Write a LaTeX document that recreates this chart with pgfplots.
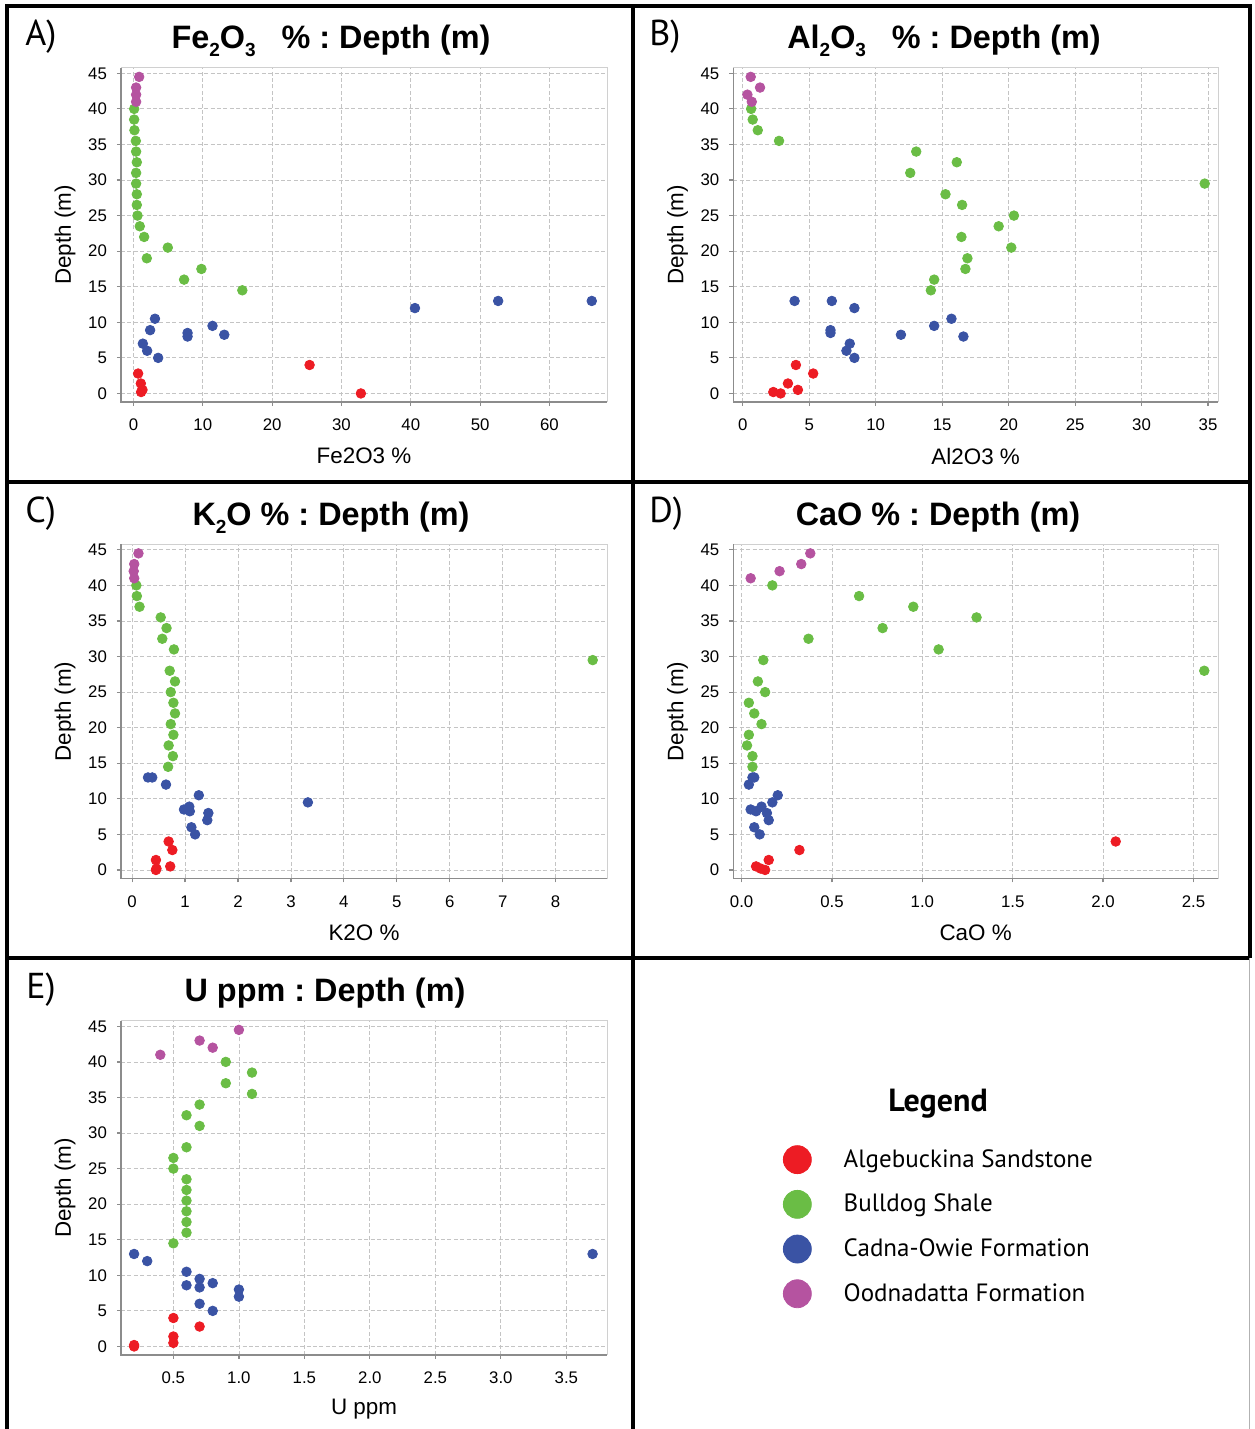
\documentclass[border=0pt]{standalone}
\usepackage{fontspec}
\setmainfont{Liberation Sans}
\newfontfamily\legfont{PT Sans}
\usepackage{pgfplots}
\pgfplotsset{compat=1.18}
\frenchspacing

\definecolor{cred}{HTML}{ED1C24}
\definecolor{cgreen}{HTML}{6ABD45}
\definecolor{cblue}{HTML}{3A53A4}
\definecolor{cpurple}{HTML}{B553A0}
\definecolor{gridc}{HTML}{C4C4C4}
\definecolor{axdark}{HTML}{8C8C8C}
\definecolor{axlight}{HTML}{D0D0D0}

\pgfplotsset{
  panel/.style={
    scale only axis, anchor=south west,
    width=243pt, height=167pt,
    ymin=-1.2, ymax=45.75, ytick={0,5,...,45},
    grid=major,
    major grid style={draw=gridc, line width=0.4pt, dash pattern=on 2pt off 1.2pt},
    axis line style={draw=axlight, line width=0.5pt},
    tick pos=left, tick align=outside, major tick length=2pt,
    tick style={draw=axdark, line width=0.6pt},
    ticklabel style={font=\fontsize{8.4}{10}\selectfont},
    /pgf/number format/assume math mode=true,
    xticklabel style={yshift=-3pt}, yticklabel style={xshift=-1.5pt},
    label style={font=\fontsize{11.2}{13}\selectfont},
    xlabel style={at={(axis description cs:0.5,-0.162)}, anchor=center},
    ylabel style={at={(axis description cs:-0.115,0.5)}, anchor=center},
    ylabel={Depth (m)},
    clip=false,
    every axis plot/.append style={only marks, mark=*, mark size=2.4pt},
  },
  onedec/.style={xticklabel style={/pgf/number format/.cd, fixed, fixed zerofill, precision=1}},
}
\newcommand{\axfix}{\draw[axdark, line width=0.75pt] (rel axis cs:0,1) -- (rel axis cs:0,0) -- (rel axis cs:1,0);}
\newcommand{\sub}[1]{\raisebox{-0.45ex}{\fontsize{9.5}{10}\selectfont #1}}

\begin{document}
\begin{tikzpicture}
\useasboundingbox (0,0) rectangle (627pt,714.5pt);

% A) Fe2O3
\begin{axis}[panel, at={(60.5pt,513.5pt)},
  xmin=-1.8, xmax=68.3, xtick={0,10,...,60}, xlabel={Fe2O3 \%}]
\axfix
\addplot[cred] coordinates {(25.4,4.0) (0.67,2.8) (1.06,1.4) (1.3,0.5) (1.1,0.2) (32.8,0.0)};
\addplot[cgreen] coordinates {(0.1,40) (0.1,38.5) (0.14,37) (0.34,35.5) (0.38,34) (0.48,32.5) (0.38,31) (0.38,29.5) (0.48,28) (0.48,26.5) (0.58,25) (0.91,23.5) (1.54,22) (4.95,20.5) (1.92,19) (9.8,17.5) (7.3,16) (15.7,14.5)};
\addplot[cblue] coordinates {(52.6,13) (66.1,13) (40.6,12) (3.1,10.5) (11.4,9.5) (2.4,8.9) (7.8,8.5) (13.1,8.25) (7.8,8.0) (1.35,7) (1.97,6) (3.56,5)};
\addplot[cpurple] coordinates {(0.82,44.5) (0.38,43) (0.38,42) (0.38,41)};
\end{axis}

% B) Al2O3
\begin{axis}[panel, at={(366.65pt,513.5pt)}, width=242.35pt,
  xmin=-0.71, xmax=35.75, xtick={0,5,...,35}, xlabel={Al2O3 \%}]
\axfix
\addplot[cred] coordinates {(4.0,4.0) (5.3,2.8) (3.4,1.4) (4.15,0.5) (2.3,0.2) (2.85,0.0)};
\addplot[cgreen] coordinates {(0.63,40) (0.75,38.5) (1.13,37) (2.73,35.5) (13.05,34) (16.1,32.5) (12.6,31) (34.75,29.5) (15.25,28) (16.5,26.5) (20.4,25) (19.25,23.5) (16.45,22) (20.2,20.5) (16.9,19) (16.75,17.5) (14.4,16) (14.15,14.5)};
\addplot[cblue] coordinates {(3.9,13) (6.7,13) (8.4,12) (15.7,10.5) (14.4,9.5) (6.6,8.9) (6.6,8.5) (11.9,8.25) (16.6,8.0) (8.05,7) (7.8,6) (8.4,5)};
\addplot[cpurple] coordinates {(0.6,44.5) (1.3,43) (0.35,42) (0.68,41)};
\end{axis}

% C) K2O
\begin{axis}[panel, at={(60.5pt,275.25pt)},
  xmin=-0.21, xmax=8.97, xtick={0,1,...,8}, xlabel={K2O \%}]
\axfix
\addplot[cred] coordinates {(0.69,4.0) (0.76,2.8) (0.45,1.4) (0.72,0.5) (0.46,0.2) (0.45,0.0)};
\addplot[cgreen] coordinates {(0.08,40) (0.09,38.5) (0.14,37) (0.54,35.5) (0.65,34) (0.57,32.5) (0.79,31) (8.70,29.5) (0.71,28) (0.81,26.5) (0.73,25) (0.78,23.5) (0.81,22) (0.73,20.5) (0.78,19) (0.69,17.5) (0.77,16) (0.68,14.5)};
\addplot[cblue] coordinates {(0.30,13) (0.38,13) (0.64,12) (1.26,10.5) (3.32,9.5) (1.08,8.9) (0.98,8.5) (1.09,8.25) (1.44,8.0) (1.42,7) (1.12,6) (1.19,5)};
\addplot[cpurple] coordinates {(0.12,44.5) (0.04,43) (0.03,42) (0.04,41)};
\end{axis}

% D) CaO
\begin{axis}[panel, onedec, at={(366.65pt,275.25pt)}, width=242.35pt,
  xmin=-0.046, xmax=2.636, xtick={0,0.5,...,2.5}, xlabel={CaO \%}]
\axfix
\addplot[cred] coordinates {(2.07,4.0) (0.32,2.8) (0.15,1.4) (0.08,0.5) (0.105,0.2) (0.13,0.0)};
\addplot[cgreen] coordinates {(0.17,40) (0.65,38.5) (0.95,37) (1.30,35.5) (0.78,34) (0.37,32.5) (1.09,31) (0.12,29.5) (2.56,28) (0.09,26.5) (0.13,25) (0.04,23.5) (0.07,22) (0.11,20.5) (0.04,19) (0.03,17.5) (0.06,16) (0.06,14.5)};
\addplot[cblue] coordinates {(0.07,13) (0.06,13) (0.04,12) (0.20,10.5) (0.17,9.5) (0.11,8.9) (0.05,8.5) (0.08,8.25) (0.14,8.0) (0.15,7) (0.07,6) (0.10,5)};
\addplot[cpurple] coordinates {(0.38,44.5) (0.33,43) (0.21,42) (0.05,41)};
\end{axis}

% E) U ppm, with the legend of all panels
\begin{axis}[panel, onedec, at={(60.5pt,37pt)},
  xmin=0.1, xmax=3.81, xtick={0.5,1.0,...,3.5}, xlabel={U ppm},
  legend cell align=left,
  legend image code/.code={\fill[#1] (0pt,0pt) circle (7pt);},
  legend style={at={(1.362,0.628)}, anchor=north west, draw=none, fill=none,
    inner sep=0pt, outer sep=0pt, row sep=7.95pt, column sep=16pt,
    font=\legfont\fontsize{12.5}{15}\selectfont, nodes={inner sep=0pt}}]
\axfix
\addplot[cred] coordinates {(0.5,4.0) (0.7,2.8) (0.5,1.4) (0.5,0.5) (0.2,0.2) (0.2,0.0)};
\addlegendentry{Algebuckina Sandstone}
\addplot[cgreen] coordinates {(0.9,40) (1.1,38.5) (0.9,37) (1.1,35.5) (0.7,34) (0.6,32.5) (0.7,31) (0.6,28) (0.5,26.5) (0.5,25) (0.6,23.5) (0.6,22) (0.6,20.5) (0.6,19) (0.6,17.5) (0.6,16) (0.5,14.5)};
\addlegendentry{Bulldog Shale}
\addplot[cblue] coordinates {(0.2,13) (3.7,13) (0.3,12) (0.6,10.5) (0.7,9.5) (0.8,8.9) (0.6,8.6) (0.7,8.3) (1.0,8.0) (1.0,7) (0.7,6) (0.8,5)};
\addlegendentry{Cadna-Owie Formation}
\addplot[cpurple] coordinates {(1.0,44.5) (0.7,43) (0.8,42) (0.4,41)};
\addlegendentry{Oodnadatta Formation}
\end{axis}

\begin{scope}[x=0.5pt, y=0.5pt]
% panel frames
\draw[line width=2pt] (7,0) -- (7,1423) -- (1250,1423) -- (1250,471);
\draw[line width=2pt] (633,1423) -- (633,0);
\draw[line width=2pt] (7,947) -- (1250,947);
\draw[line width=2pt] (7,471) -- (1250,471);
\draw[gray!60, line width=0.5pt] (1249,471) -- (1249,0);
% titles
\begin{scope}[every node/.style={font=\fontsize{16.2}{19}\selectfont\bfseries, anchor=base, inner sep=0pt}]
\node at (331,1380) {Fe\sub{2}O\sub{3}\hspace{0.8em}\% : Depth (m)};
\node at (944,1380) {Al\sub{2}O\sub{3}\hspace{0.8em}\% : Depth (m)};
\node at (331,903.5) {K\sub{2}O \% : Depth (m)};
\node at (938,903.5) {CaO \% : Depth (m)};
\node at (325,427) {U ppm : Depth (m)};
\end{scope}
% panel letters
\begin{scope}[every node/.style={font=\legfont\fontsize{18}{20}\selectfont, anchor=base west, inner sep=0pt}]
\node at (25,1383) {A)};
\node at (649,1383) {B)};
\node at (25,906.5) {C)};
\node at (649,906.5) {D)};
\node at (26,430) {E)};
\end{scope}
\node[font=\legfont\bfseries\fontsize{16}{19}\selectfont, anchor=base, inner sep=0pt] at (938,317.3) {Legend};
\end{scope}
\end{tikzpicture}
\end{document}
